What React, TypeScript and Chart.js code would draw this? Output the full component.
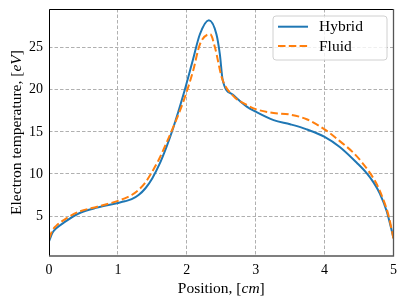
import React, { useEffect, useRef } from "react";
import { Chart, registerables } from "chart.js";

Chart.register(...registerables);

// Hybrid series (position in cm, electron temperature in eV)
const hybridX = [0, 0.05, 0.1, 0.23, 0.43, 0.7, 1.0, 1.1, 1.2, 1.3, 1.4, 1.5, 1.6, 1.7, 1.8, 1.95, 2.09, 2.19, 2.32, 2.43, 2.48, 2.52, 2.67, 2.87, 3.0, 3.26, 3.5, 3.74, 4.0, 4.22, 4.47, 4.61, 4.71, 4.8, 4.9, 5.0];
const hybridY = [2.0, 3.0, 3.5, 4.3, 5.3, 6.0, 6.55, 6.75, 7.0, 7.5, 8.3, 9.5, 11.1, 13.1, 15.4, 19.4, 23.6, 26.6, 28.27, 26.6, 24.2, 21.2, 19.4, 18.0, 17.4, 16.4, 15.9, 15.3, 14.4, 13.2, 11.3, 10.1, 9.0, 7.7, 5.6, 2.4];

// Fluid series
const fluidX = [0, 0.05, 0.1, 0.23, 0.43, 0.7, 1.0, 1.1, 1.2, 1.3, 1.4, 1.5, 1.6, 1.7, 1.8, 1.95, 2.09, 2.19, 2.34, 2.41, 2.51, 2.67, 2.87, 3.0, 3.26, 3.5, 3.74, 4.0, 4.22, 4.42, 4.55, 4.66, 4.75, 4.85, 4.93, 5.0];
const fluidY = [2.3, 3.3, 3.8, 4.6, 5.5, 6.1, 6.8, 7.1, 7.5, 8.1, 9.0, 10.3, 11.8, 13.6, 15.5, 18.6, 22.2, 25.4, 26.6, 25.0, 21.4, 19.3, 18.2, 17.7, 17.25, 17.05, 16.5, 15.3, 13.9, 12.5, 11.3, 10.1, 8.9, 7.0, 5.0, 2.3];

const xTicks = [0, 1, 2, 3, 4, 5];
const yTicks = [5, 10, 15, 20, 25];
const seriesNames = ["Hybrid", "Fluid"];
const xTitle: [string, boolean][] = [["Position, [", false], ["cm", true], ["]", false]];
const yTitle: [string, boolean][] = [["Electron temperature, [", false], ["eV", true], ["]", false]];

const BLUE = "#1f77b4";
const ORANGE = "#ff7f0e";
const FONT = "'Liberation Serif', 'DejaVu Serif', serif";

function drawRich(ctx: CanvasRenderingContext2D, parts: [string, boolean][], size: number, cx: number, cy: number) {
  const fontFor = (it: boolean) => `${it ? "italic " : ""}${size}px ${FONT}`;
  let total = 0;
  for (const [t, it] of parts) {
    ctx.font = fontFor(it);
    total += ctx.measureText(t).width;
  }
  let x = cx - total / 2;
  ctx.textBaseline = "middle";
  ctx.textAlign = "left";
  for (const [t, it] of parts) {
    ctx.font = fontFor(it);
    ctx.fillText(t, x, cy);
    x += ctx.measureText(t).width;
  }
}

const decorPlugin = {
  id: "decor",
  afterDraw(chart: any) {
    const { ctx, chartArea } = chart;
    const { left, top, right, bottom } = chartArea;
    ctx.save();
    // frame
    ctx.lineWidth = 1;
    ctx.strokeStyle = "#000";
    ctx.beginPath();
    ctx.moveTo(left + 0.5, bottom);
    ctx.lineTo(left + 0.5, top + 0.5);
    ctx.lineTo(right, top + 0.5);
    ctx.stroke();
    ctx.strokeStyle = "#555";
    ctx.lineWidth = 1.3;
    ctx.beginPath();
    ctx.moveTo(right, top);
    ctx.lineTo(right, bottom);
    ctx.lineTo(left, bottom);
    ctx.stroke();

    // titles
    ctx.fillStyle = "#000";
    drawRich(ctx, xTitle, 15.5, (left + right) / 2, 288.5);
    ctx.save();
    ctx.translate(16.5, (top + bottom) / 2);
    ctx.rotate(-Math.PI / 2);
    drawRich(ctx, yTitle, 15.5, 0, 0);
    ctx.restore();

    // legend
    const bx = right - 120.5;
    const by = top + 7;
    const bw = 114;
    const bh = 44;
    const r = 3;
    ctx.beginPath();
    ctx.moveTo(bx + r, by);
    ctx.lineTo(bx + bw - r, by);
    ctx.quadraticCurveTo(bx + bw, by, bx + bw, by + r);
    ctx.lineTo(bx + bw, by + bh - r);
    ctx.quadraticCurveTo(bx + bw, by + bh, bx + bw - r, by + bh);
    ctx.lineTo(bx + r, by + bh);
    ctx.quadraticCurveTo(bx, by + bh, bx, by + bh - r);
    ctx.lineTo(bx, by + r);
    ctx.quadraticCurveTo(bx, by, bx + r, by);
    ctx.closePath();
    ctx.fillStyle = "rgba(255,255,255,0.8)";
    ctx.fill();
    ctx.strokeStyle = "#d0d0d0";
    ctx.lineWidth = 1;
    ctx.stroke();

    const rows = [by + 10.7, by + 30];
    const colors = [BLUE, ORANGE];
    const dashes = [[], [7.5, 3.3]];
    for (let i = 0; i < 2; i++) {
      ctx.strokeStyle = colors[i];
      ctx.lineWidth = 2;
      ctx.setLineDash(dashes[i]);
      ctx.beginPath();
      ctx.moveTo(bx + 5, rows[i]);
      ctx.lineTo(bx + 35, rows[i]);
      ctx.stroke();
      ctx.setLineDash([]);
      ctx.fillStyle = "#000";
      ctx.font = `15.5px ${FONT}`;
      ctx.textBaseline = "middle";
      ctx.textAlign = "left";
      ctx.fillText(seriesNames[i], bx + 46, rows[i] + 0.5);
    }
    ctx.restore();
  },
};

export default function App() {
  const ref = useRef<HTMLCanvasElement | null>(null);
  useEffect(() => {
    document.body.style.margin = "0";
    const canvas = ref.current;
    if (!canvas) return;
    const chart = new Chart(canvas, {
      type: "line",
      data: {
        datasets: [
          {
            label: seriesNames[0],
            data: hybridX.map((x, i) => ({ x, y: hybridY[i] })),
            borderColor: BLUE,
            borderWidth: 2,
            pointRadius: 0,
            cubicInterpolationMode: "monotone",
            fill: false,
            order: 2,
          },
          {
            label: seriesNames[1],
            data: fluidX.map((x, i) => ({ x, y: fluidY[i] })),
            borderColor: ORANGE,
            borderWidth: 2,
            borderDash: [7.5, 3.3],
            pointRadius: 0,
            cubicInterpolationMode: "monotone",
            fill: false,
            order: 1,
          },
        ],
      },
      options: {
        animation: false,
        responsive: false,
        events: [],
        layout: { padding: { top: 9, right: 13.5, left: 0, bottom: 0 } },
        plugins: { legend: { display: false }, tooltip: { enabled: false } },
        scales: {
          x: {
            type: "linear",
            min: 0,
            max: 5,
            afterFit: (s: any) => { s.height = 49; s.paddingLeft = 0; s.paddingRight = 0; },
            afterBuildTicks: (s: any) => { s.ticks = xTicks.map((v) => ({ value: v })); },
            ticks: { color: "#000", font: { family: FONT, size: 14 }, padding: 6, maxRotation: 0 },
            grid: { color: "#b0b0b0", lineWidth: 1, drawTicks: false },
            border: { display: false, dash: [3.5, 2] },
          },
          y: {
            type: "linear",
            min: 0.25,
            max: 29.6,
            afterFit: (s: any) => { s.width = 49; s.paddingTop = 0; s.paddingBottom = 0; },
            afterBuildTicks: (s: any) => { s.ticks = yTicks.map((v) => ({ value: v })); },
            ticks: { color: "#000", font: { family: FONT, size: 14 }, padding: 6 },
            grid: { color: "#b0b0b0", lineWidth: 1, drawTicks: false },
            border: { display: false, dash: [3.5, 2] },
          },
        },
      },
      plugins: [decorPlugin],
    } as any);
    return () => chart.destroy();
  }, []);
  return (
    <div style={{ width: 407, height: 305 }}>
      <canvas ref={ref} width={407} height={305} />
    </div>
  );
}
